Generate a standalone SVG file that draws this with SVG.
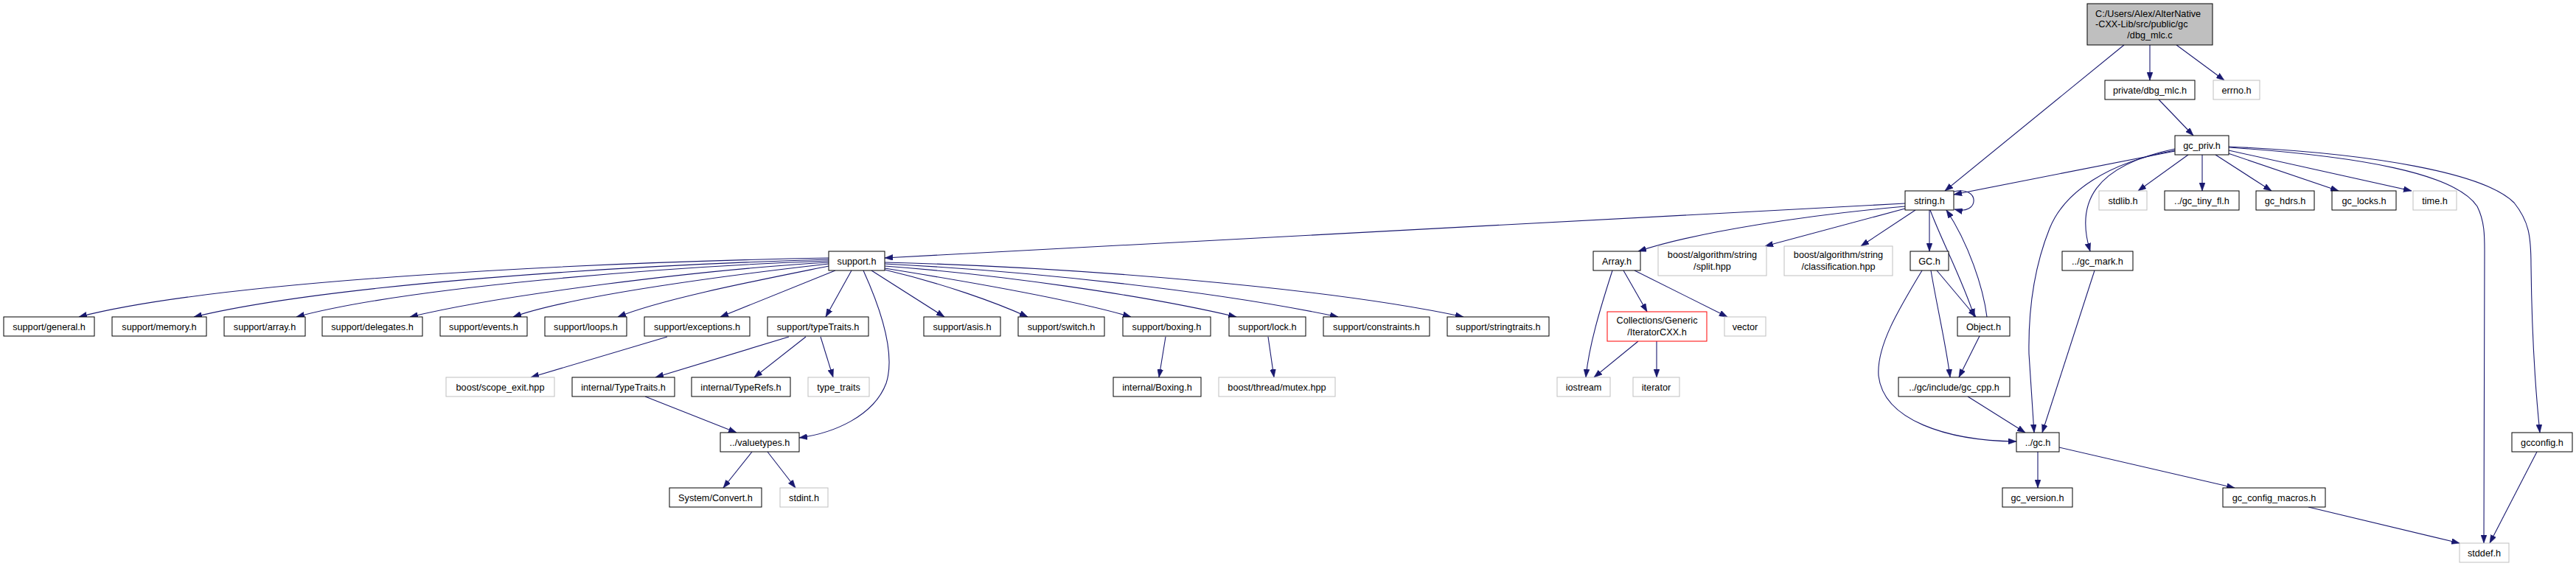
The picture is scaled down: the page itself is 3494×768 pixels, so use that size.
<svg xmlns="http://www.w3.org/2000/svg" width="3494" height="768" viewBox="0 0 3494 768">
<style>
.n rect{fill:#fff;stroke:#000;stroke-width:1}
.n.g rect{stroke:#bfbfbf}
.n.r rect{stroke:#ff0000}
.n.root rect{fill:#bfbfbf}
text{font-family:"Liberation Sans",Arial,Helvetica,sans-serif;font-size:12.7px;fill:#000;text-anchor:middle}
text.l{text-anchor:start}
#edges path{fill:none;stroke:#191970;stroke-width:1.1;marker-end:url(#ah)}
</style>
<defs>
<marker id="ah" viewBox="0 0 11 8" refX="11" refY="4" markerWidth="11" markerHeight="8" markerUnits="userSpaceOnUse" orient="auto">
<path d="M0,0 L11,4 L0,8 z" fill="#191970" stroke="#191970" stroke-width="0.5"/>
</marker>
</defs>
<rect x="0" y="0" width="3494" height="768" fill="#fff"/>
<g id="edges">
<path d="M2881,61 L2638,259"/>
<path d="M2916,61 L2916,109"/>
<path d="M2952,61 L3017,109"/>
<path d="M2928,135 L2975,184"/>
<path d="M2950,205 L2650,264"/>
<path d="M2968,210 L2900,259"/>
<path d="M2987,210 L2987,259"/>
<path d="M3005,210 L3081,259"/>
<path d="M3022,208 L3172,259"/>
<path d="M3023,204 L3271,259"/>
<path d="M2950,202 C2840,225 2815,275 2835,341"/>
<path d="M2950,204 C2860,220 2800,260 2780,310 C2760,360 2751,420 2752,480 L2759,587"/>
<path d="M3023,200 C3200,212 3330,235 3360,280 C3370,300 3370,320 3370,340 L3369,737"/>
<path d="M3023,199 C3220,208 3370,235 3410,275 C3430,300 3433,320 3433,360 C3434,450 3438,520 3445,587"/>
<path d="M2650,260 C2686,251 2686,293 2651,284"/>
<path d="M2584,276 L1200,350"/>
<path d="M2584,280 C2450,292 2300,315 2222,341"/>
<path d="M2584,283 L2394,334"/>
<path d="M2598,285 L2524,334"/>
<path d="M2617,285 L2617,341"/>
<path d="M2618,285 C2635,330 2662,380 2678,430"/>
<path d="M2695,430 C2690,390 2670,330 2640,285"/>
<path d="M2627,367 L2680,430"/>
<path d="M2619,367 C2628,420 2640,470 2645,512"/>
<path d="M2607,367 C2575,420 2545,470 2548,510 C2555,570 2640,598 2735,599"/>
<path d="M2685,456 L2657,512"/>
<path d="M2669,538 L2747,587"/>
<path d="M2764,613 L2764,662"/>
<path d="M2793,607 L3031,662"/>
<path d="M2841,367 L2770,587"/>
<path d="M3131,688 L3336,737"/>
<path d="M3441,613 L3377,737"/>
<path d="M2187,367 C2170,420 2155,470 2151,512"/>
<path d="M2202,367 L2234,423"/>
<path d="M2217,367 L2343,430"/>
<path d="M2222,463 L2162,512"/>
<path d="M2247,463 L2247,512"/>
<path d="M1124,350 C800,356 300,380 107,430"/>
<path d="M1124,352 C850,360 450,385 263,430"/>
<path d="M1124,354 C900,362 550,390 402,430"/>
<path d="M1124,356 C950,366 680,400 556,430"/>
<path d="M1124,358 C1000,372 780,400 696,430"/>
<path d="M1124,361 C1030,380 900,405 838,430"/>
<path d="M1133,367 L977,430"/>
<path d="M1155,367 L1120,430"/>
<path d="M1171,367 C1195,420 1215,480 1202,520 C1185,565 1130,588 1084,594"/>
<path d="M1182,367 L1281,430"/>
<path d="M1200,366 C1280,385 1350,410 1394,430"/>
<path d="M1200,364 C1300,380 1450,405 1534,430"/>
<path d="M1200,361 C1350,372 1550,400 1677,430"/>
<path d="M1200,358 C1400,368 1650,395 1815,430"/>
<path d="M1200,356 C1450,362 1800,390 1985,430"/>
<path d="M905,457 L720,512"/>
<path d="M1070,457 L889,512"/>
<path d="M1093,457 L1023,512"/>
<path d="M1113,457 L1130,512"/>
<path d="M875,538 L999,587"/>
<path d="M1020,613 L981,662"/>
<path d="M1041,613 L1079,662"/>
<path d="M1581,457 L1572,512"/>
<path d="M1720,457 L1728,512"/>
</g>
<g id="n_root" class="n root"><rect x="2831" y="5" width="170" height="56"/><text class="l" x="2842" y="22.5">C:/Users/Alex/AlterNative</text><text class="l" x="2842" y="37">-CXX-Lib/src/public/gc</text><text x="2916" y="51.5">/dbg_mlc.c</text></g>
<g id="n_dbg_mlc_h" class="n"><rect x="2855" y="109" width="122" height="26"/><text x="2916" y="126.5">private/dbg_mlc.h</text></g>
<g id="n_errno" class="n g"><rect x="3002" y="109" width="63" height="26"/><text x="3033.5" y="126.5">errno.h</text></g>
<g id="n_gc_priv" class="n"><rect x="2950" y="184" width="73" height="26"/><text x="2986.5" y="201.5">gc_priv.h</text></g>
<g id="n_stdlib" class="n g"><rect x="2847" y="259" width="65" height="26"/><text x="2879.5" y="276.5">stdlib.h</text></g>
<g id="n_gc_tiny_fl" class="n"><rect x="2936" y="259" width="101" height="26"/><text x="2986.5" y="276.5">../gc_tiny_fl.h</text></g>
<g id="n_gc_hdrs" class="n"><rect x="3060" y="259" width="79" height="26"/><text x="3099.5" y="276.5">gc_hdrs.h</text></g>
<g id="n_gc_locks" class="n"><rect x="3163" y="259" width="87" height="26"/><text x="3206.5" y="276.5">gc_locks.h</text></g>
<g id="n_time" class="n g"><rect x="3273" y="259" width="59" height="26"/><text x="3302.5" y="276.5">time.h</text></g>
<g id="n_string" class="n"><rect x="2584" y="259" width="66" height="26"/><text x="2617" y="276.5">string.h</text></g>
<g id="n_support" class="n"><rect x="1124" y="341" width="76" height="26"/><text x="1162" y="358.5">support.h</text></g>
<g id="n_array" class="n"><rect x="2161" y="341" width="64" height="26"/><text x="2193" y="358.5">Array.h</text></g>
<g id="n_split" class="n g"><rect x="2249" y="334" width="147" height="40"/><text x="2322.5" y="350">boost/algorithm/string</text><text x="2322.5" y="365.5">/split.hpp</text></g>
<g id="n_classification" class="n g"><rect x="2420" y="334" width="147" height="40"/><text x="2493.5" y="350">boost/algorithm/string</text><text x="2493.5" y="365.5">/classification.hpp</text></g>
<g id="n_gc_h_cap" class="n"><rect x="2591" y="341" width="52" height="26"/><text x="2617" y="358.5">GC.h</text></g>
<g id="n_gc_mark" class="n"><rect x="2797" y="341" width="96" height="26"/><text x="2845" y="358.5">../gc_mark.h</text></g>
<g id="n_general" class="n"><rect x="5" y="430" width="123" height="26"/><text x="66.5" y="447.5">support/general.h</text></g>
<g id="n_memory" class="n"><rect x="152" y="430" width="128" height="26"/><text x="216" y="447.5">support/memory.h</text></g>
<g id="n_sarray" class="n"><rect x="304" y="430" width="110" height="26"/><text x="359" y="447.5">support/array.h</text></g>
<g id="n_delegates" class="n"><rect x="437" y="430" width="136" height="26"/><text x="505" y="447.5">support/delegates.h</text></g>
<g id="n_events" class="n"><rect x="597" y="430" width="118" height="26"/><text x="656" y="447.5">support/events.h</text></g>
<g id="n_loops" class="n"><rect x="739" y="430" width="111" height="26"/><text x="794.5" y="447.5">support/loops.h</text></g>
<g id="n_exceptions" class="n"><rect x="874" y="430" width="143" height="26"/><text x="945.5" y="447.5">support/exceptions.h</text></g>
<g id="n_typetraits_s" class="n"><rect x="1041" y="430" width="137" height="26"/><text x="1109.5" y="447.5">support/typeTraits.h</text></g>
<g id="n_asis" class="n"><rect x="1253" y="430" width="104" height="26"/><text x="1305" y="447.5">support/asis.h</text></g>
<g id="n_switch" class="n"><rect x="1381" y="430" width="117" height="26"/><text x="1439.5" y="447.5">support/switch.h</text></g>
<g id="n_boxing" class="n"><rect x="1523" y="430" width="119" height="26"/><text x="1582.5" y="447.5">support/boxing.h</text></g>
<g id="n_lock" class="n"><rect x="1667" y="430" width="104" height="26"/><text x="1719" y="447.5">support/lock.h</text></g>
<g id="n_constraints" class="n"><rect x="1795" y="430" width="144" height="26"/><text x="1867" y="447.5">support/constraints.h</text></g>
<g id="n_stringtraits" class="n"><rect x="1963" y="430" width="138" height="26"/><text x="2032" y="447.5">support/stringtraits.h</text></g>
<g id="n_object" class="n"><rect x="2655" y="430" width="71" height="26"/><text x="2690.5" y="447.5">Object.h</text></g>
<g id="n_iteratorcxx" class="n r"><rect x="2180" y="423" width="135" height="40"/><text x="2247.5" y="439">Collections/Generic</text><text x="2247.5" y="454.5">/IteratorCXX.h</text></g>
<g id="n_vector" class="n g"><rect x="2339" y="430" width="56" height="26"/><text x="2367" y="447.5">vector</text></g>
<g id="n_scope_exit" class="n g"><rect x="605" y="512" width="147" height="26"/><text x="678.5" y="529.5">boost/scope_exit.hpp</text></g>
<g id="n_itypetraits" class="n"><rect x="776" y="512" width="139" height="26"/><text x="845.5" y="529.5">internal/TypeTraits.h</text></g>
<g id="n_typerefs" class="n"><rect x="938" y="512" width="134" height="26"/><text x="1005" y="529.5">internal/TypeRefs.h</text></g>
<g id="n_type_traits" class="n g"><rect x="1096" y="512" width="83" height="26"/><text x="1137.5" y="529.5">type_traits</text></g>
<g id="n_iboxing" class="n"><rect x="1510" y="512" width="119" height="26"/><text x="1569.5" y="529.5">internal/Boxing.h</text></g>
<g id="n_mutex" class="n g"><rect x="1653" y="512" width="158" height="26"/><text x="1732" y="529.5">boost/thread/mutex.hpp</text></g>
<g id="n_iostream" class="n g"><rect x="2112" y="512" width="72" height="26"/><text x="2148" y="529.5">iostream</text></g>
<g id="n_iterator" class="n g"><rect x="2215" y="512" width="63" height="26"/><text x="2246.5" y="529.5">iterator</text></g>
<g id="n_gc_cpp" class="n"><rect x="2575" y="512" width="151" height="26"/><text x="2650.5" y="529.5">../gc/include/gc_cpp.h</text></g>
<g id="n_valuetypes" class="n"><rect x="977" y="587" width="107" height="26"/><text x="1030.5" y="604.5">../valuetypes.h</text></g>
<g id="n_gc_h" class="n"><rect x="2735" y="587" width="58" height="26"/><text x="2764" y="604.5">../gc.h</text></g>
<g id="n_gcconfig" class="n"><rect x="3407" y="587" width="82" height="26"/><text x="3448" y="604.5">gcconfig.h</text></g>
<g id="n_convert" class="n"><rect x="908" y="662" width="125" height="26"/><text x="970.5" y="679.5">System/Convert.h</text></g>
<g id="n_stdint" class="n g"><rect x="1058" y="662" width="65" height="26"/><text x="1090.5" y="679.5">stdint.h</text></g>
<g id="n_gc_version" class="n"><rect x="2716" y="662" width="95" height="26"/><text x="2763.5" y="679.5">gc_version.h</text></g>
<g id="n_gc_config_macros" class="n"><rect x="3015" y="662" width="139" height="26"/><text x="3084.5" y="679.5">gc_config_macros.h</text></g>
<g id="n_stddef" class="n g"><rect x="3336" y="737" width="67" height="26"/><text x="3369.5" y="754.5">stddef.h</text></g>
</svg>
